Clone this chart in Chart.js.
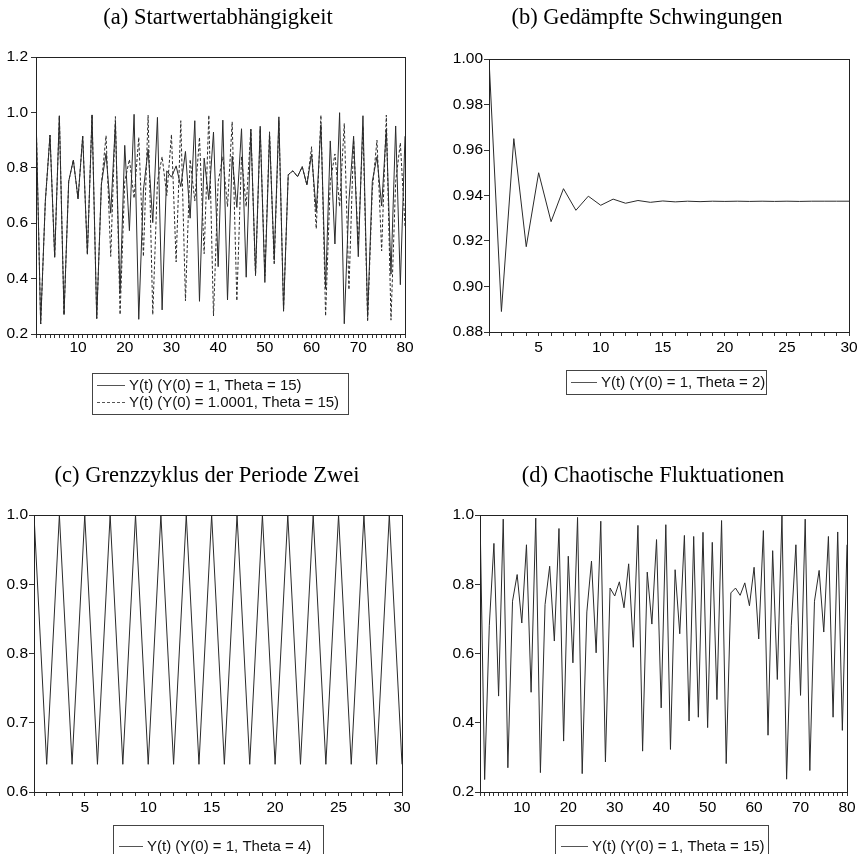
<!DOCTYPE html>
<html>
<head>
<meta charset="utf-8">
<script src="https://cdn.jsdelivr.net/npm/chart.js@4.4.1/dist/chart.umd.min.js"></script>
<style>
    html, body { margin: 0; padding: 0; background: #fff; }
    #wrap { position: relative; width: 861px; height: 854px; overflow: hidden; }
    .panel { position: absolute; }
</style>
</head>
<body>
<div id="wrap">
    <div class="panel" style="left:0;top:0;width:430px;height:430px"><canvas id="chartA"></canvas></div>
    <div class="panel" style="left:430px;top:0;width:431px;height:430px"><canvas id="chartB"></canvas></div>
    <div class="panel" style="left:0;top:430px;width:430px;height:424px"><canvas id="chartC"></canvas></div>
    <div class="panel" style="left:430px;top:430px;width:431px;height:424px"><canvas id="chartD"></canvas></div>
</div>
<script>
(function () {
    'use strict';

    // Y(t), Y(0) = 1, Theta = 15 (panels a and d)
    const chaos = [
        1.000, 0.236, 0.680, 0.918, 0.477, 0.988, 0.270, 0.751, 0.828, 0.688,
        0.914, 0.488, 0.991, 0.256, 0.741, 0.852, 0.636, 0.961, 0.347, 0.881,
        0.573, 0.993, 0.253, 0.720, 0.867, 0.602, 0.982, 0.287, 0.789, 0.766,
        0.807, 0.732, 0.859, 0.618, 0.970, 0.318, 0.835, 0.685, 0.929, 0.443,
        0.972, 0.323, 0.842, 0.657, 0.941, 0.405, 0.938, 0.416, 0.950, 0.386,
        0.921, 0.467, 0.984, 0.282, 0.775, 0.789, 0.768, 0.804, 0.738, 0.849,
        0.642, 0.955, 0.364, 0.897, 0.525, 0.999, 0.237, 0.680, 0.914, 0.479,
        0.988, 0.262, 0.751, 0.840, 0.662, 0.938, 0.416, 0.951, 0.378, 0.914
    ];

    // Y(t), Y(0) = 1.0001, Theta = 15 (panel a, dashed)
    const chaosShifted = [
        1.000, 0.236, 0.680, 0.918, 0.477, 0.988, 0.270, 0.751, 0.828, 0.688,
        0.914, 0.488, 0.991, 0.256, 0.741, 0.916, 0.480, 0.985, 0.270, 0.750,
        0.830, 0.690, 0.910, 0.480, 0.990, 0.270, 0.750, 0.840, 0.700, 0.920,
        0.460, 0.970, 0.320, 0.830, 0.680, 0.910, 0.490, 0.990, 0.265, 0.750,
        0.840, 0.660, 0.966, 0.320, 0.840, 0.660, 0.940, 0.410, 0.940, 0.410,
        0.930, 0.450, 0.970, 0.290, 0.775, 0.789, 0.768, 0.804, 0.738, 0.876,
        0.580, 0.990, 0.265, 0.750, 0.850, 0.660, 0.960, 0.360, 0.900, 0.520,
        0.950, 0.245, 0.720, 0.900, 0.500, 0.990, 0.250, 0.750, 0.890, 0.590
    ];

    // Y(t), Y(0) = 1, Theta = 2
    const damped = [
        1.000, 0.889, 0.965, 0.9175, 0.950, 0.9285, 0.943, 0.9335, 0.9397, 0.9357,
        0.9384, 0.9366, 0.9378, 0.9370, 0.9376, 0.9372, 0.9375, 0.9373, 0.9375, 0.9374,
        0.9375, 0.9374, 0.9375, 0.9374, 0.9375, 0.9374, 0.9375, 0.9375, 0.9375, 0.9375
    ];

    // Y(t), Y(0) = 1, Theta = 4
    const cycle = [
        1.00, 0.64, 1.00, 0.64, 1.00, 0.64, 1.00, 0.64, 1.00, 0.64,
        1.00, 0.64, 1.00, 0.64, 1.00, 0.64, 1.00, 0.64, 1.00, 0.64,
        1.00, 0.64, 1.00, 0.64, 1.00, 0.64, 1.00, 0.64, 1.00, 0.64
    ];

    const yTicksA = [0.2, 0.4, 0.6, 0.8, 1.0, 1.2];
    const yTicksB = [0.88, 0.90, 0.92, 0.94, 0.96, 0.98, 1.00];
    const yTicksC = [0.6, 0.7, 0.8, 0.9, 1.0];
    const yTicksD = [0.2, 0.4, 0.6, 0.8, 1.0];
    const xLabels80 = [10, 20, 30, 40, 50, 60, 70, 80];
    const xLabels30 = [5, 10, 15, 20, 25, 30];

    const SANS = '"Liberation Sans", Arial, sans-serif';
    const SERIF = '"Liberation Serif", "Times New Roman", serif';

    function toPoints(values) {
        return values.map(function (v, i) { return { x: i + 1, y: v }; });
    }

    // frame around the plot, title and boxed legend
    const panelDeco = {
        id: 'panelDeco',
        afterDraw: function (chart, args, opts) {
            const ctx = chart.ctx;
            const a = chart.chartArea;
            ctx.save();
            ctx.strokeStyle = '#222';
            ctx.lineWidth = 1;
            ctx.setLineDash([]);
            ctx.strokeRect(Math.round(a.left) + 0.5, Math.round(a.top) + 0.5,
                Math.round(a.width), Math.round(a.height));

            ctx.fillStyle = '#000';
            ctx.font = '22.5px ' + SERIF;
            ctx.textAlign = 'center';
            ctx.textBaseline = 'middle';
            ctx.fillText(opts.title, opts.titleX, opts.titleY);

            const lg = opts.legend;
            ctx.strokeStyle = '#444';
            ctx.strokeRect(lg.x + 0.5, lg.y + 0.5, lg.w, lg.h);
            ctx.font = '15px ' + SANS;
            ctx.textAlign = 'left';
            ctx.fillStyle = '#111';
            chart.data.datasets.forEach(function (ds, i) {
                const y = Math.round(lg.y + lg.first + i * lg.step) + 0.5;
                ctx.strokeStyle = '#555';
                ctx.setLineDash(ds.borderDash || []);
                ctx.beginPath();
                ctx.moveTo(lg.x + lg.pad, y);
                ctx.lineTo(lg.x + lg.pad + lg.sample, y);
                ctx.stroke();
                ctx.setLineDash([]);
                ctx.fillText(ds.label, lg.x + lg.pad + lg.sample + 4, y);
            });
            ctx.restore();
        }
    };

    function makeChart(id, cfg) {
        const n = cfg.datasets[0].data.length;
        return new Chart(document.getElementById(id), {
            type: 'line',
            data: {
                datasets: cfg.datasets.map(function (d) {
                    return {
                        label: d.label,
                        data: toPoints(d.data),
                        borderColor: '#2a2a2a',
                        borderWidth: 1,
                        borderDash: d.dash || [],
                        pointRadius: 0,
                        tension: 0,
                        fill: false
                    };
                })
            },
            options: {
                animation: false,
                responsive: true,
                maintainAspectRatio: false,
                layout: { padding: cfg.padding },
                plugins: {
                    legend: { display: false },
                    tooltip: { enabled: false },
                    panelDeco: {
                        title: cfg.title,
                        titleX: cfg.titleX,
                        titleY: cfg.titleY,
                        legend: cfg.legend
                    }
                },
                scales: {
                    x: {
                        type: 'linear',
                        min: 1,
                        max: n,
                        afterBuildTicks: function (scale) {
                            scale.ticks = cfg.datasets[0].data.map(function (v, i) { return { value: i + 1 }; });
                        },
                        afterFit: function (scale) { scale.height = 30; },
                        grid: { drawOnChartArea: false, drawTicks: true, tickLength: 4, color: '#333' },
                        border: { display: false },
                        ticks: {
                            autoSkip: false,
                            maxRotation: 0,
                            padding: cfg.xPad,
                            color: '#000',
                            font: { family: SANS, size: 15.5 },
                            callback: function (v) { return cfg.xLabels.indexOf(v) >= 0 ? String(v) : ''; }
                        }
                    },
                    y: {
                        min: cfg.yTicks[0],
                        max: cfg.yTicks[cfg.yTicks.length - 1],
                        afterBuildTicks: function (scale) {
                            scale.ticks = cfg.yTicks.map(function (v) { return { value: v }; });
                        },
                        afterFit: function (scale) { scale.width = cfg.yWidth; },
                        grid: { drawOnChartArea: false, drawTicks: true, tickLength: 5, color: '#333' },
                        border: { display: false },
                        ticks: {
                            padding: cfg.yPad,
                            color: '#000',
                            font: { family: SANS, size: 15.5 },
                            callback: function (v) { return v.toFixed(cfg.decimals); }
                        }
                    }
                }
            },
            plugins: [panelDeco]
        });
    }

    makeChart('chartA', {
        title: '(a) Startwertabhängigkeit', titleX: 218, titleY: 18,
        datasets: [
            { label: 'Y(t) (Y(0) = 1, Theta = 15)', data: chaos },
            { label: 'Y(t) (Y(0) = 1.0001, Theta = 15)', data: chaosShifted, dash: [3, 2] }
        ],
        yTicks: yTicksA, decimals: 1, xLabels: xLabels80,
        padding: { left: 0, top: 57, right: 25, bottom: 430 - 334 - 30 },
        yWidth: 36, yPad: 3, xPad: 0,
        legend: { x: 92, y: 373, w: 256, h: 41, first: 12, step: 17, pad: 5, sample: 28 }
    });

    makeChart('chartB', {
        title: '(b) Gedämpfte Schwingungen', titleX: 217, titleY: 18,
        datasets: [
            { label: 'Y(t) (Y(0) = 1, Theta = 2)', data: damped }
        ],
        yTicks: yTicksB, decimals: 2, xLabels: xLabels30,
        padding: { left: 0, top: 59, right: 431 - 419, bottom: 430 - 332 - 30 },
        yWidth: 59, yPad: 1, xPad: 2,
        legend: { x: 136, y: 370, w: 200, h: 24, first: 12, step: 17, pad: 5, sample: 26 }
    });

    makeChart('chartC', {
        title: '(c) Grenzzyklus der Periode Zwei', titleX: 207, titleY: 46,
        datasets: [
            { label: 'Y(t) (Y(0) = 1, Theta = 4)', data: cycle }
        ],
        yTicks: yTicksC, decimals: 1, xLabels: xLabels30,
        padding: { left: 0, top: 85, right: 430 - 402, bottom: 424 - 362 - 30 },
        yWidth: 34, yPad: 1, xPad: 2,
        legend: { x: 113, y: 395, w: 210, h: 40, first: 21, step: 17, pad: 6, sample: 24 }
    });

    makeChart('chartD', {
        title: '(d) Chaotische Fluktuationen', titleX: 223, titleY: 46,
        datasets: [
            { label: 'Y(t) (Y(0) = 1, Theta = 15)', data: chaos }
        ],
        yTicks: yTicksD, decimals: 1, xLabels: xLabels80,
        padding: { left: 0, top: 85, right: 431 - 417, bottom: 424 - 362 - 30 },
        yWidth: 50, yPad: 1, xPad: 2,
        legend: { x: 125, y: 395, w: 213, h: 40, first: 21, step: 17, pad: 6, sample: 27 }
    });
})();
</script>
</body>
</html>
